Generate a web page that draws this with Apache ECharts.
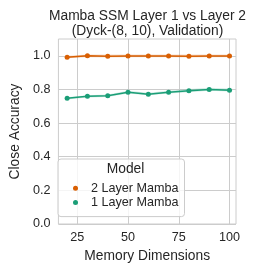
<!DOCTYPE html>
<html><head><meta charset="utf-8">
<script src="https://cdn.jsdelivr.net/npm/echarts@6/dist/echarts.min.js"></script>
<style>html,body{margin:0;padding:0;background:#fff}#c{width:254px;height:268px}</style>
</head><body><div id="c"></div>
<script>
const memoryDims = [20, 30, 40, 50, 60, 70, 80, 90, 100];
const twoLayer = [0.992, 1.0, 0.998, 0.999, 0.999, 0.999, 0.998, 0.999, 0.999];
const twoLayerLow = [0.985, 0.992, 0.99, 0.992, 0.992, 0.992, 0.99, 0.992, 0.992];
const twoLayerHigh = [1.0, 1.008, 1.008, 1.008, 1.008, 1.008, 1.008, 1.008, 1.008];
const oneLayer = [0.747, 0.759, 0.762, 0.784, 0.772, 0.784, 0.792, 0.800, 0.796];
const oneLayerLow = [0.740, 0.752, 0.755, 0.776, 0.765, 0.776, 0.784, 0.792, 0.788];
const oneLayerHigh = [0.754, 0.766, 0.770, 0.792, 0.780, 0.792, 0.802, 0.810, 0.806];
const xTicks = [25, 50, 75, 100];
const yTicks = [0.0, 0.2, 0.4, 0.6, 0.8, 1.0];
const seriesNames = ['2 Layer Mamba', '1 Layer Mamba'];
const colors = ['#d95f02', '#1b9e77'];
const bandColors = ['rgba(217,95,2,0.2)', 'rgba(27,158,119,0.2)'];

const FONT = 'Liberation Sans, Arial, sans-serif';
const BIG = 13.8, SMALL = 12.6;
const pairs = (ys) => memoryDims.map((x, i) => [x, ys[i]]);

function bandSeries(lo, hi, col) {
  return {
    type: 'custom', silent: true, z: 1,
    data: memoryDims.map((x, i) => [x, lo[i], hi[i]]),
    encode: {x: 0, y: [1, 2]},
    renderItem: function (params, api) {
      if (params.dataIndex !== 0) return;
      const top = memoryDims.map((x, i) => api.coord([x, hi[i]]));
      const bot = memoryDims.map((x, i) => api.coord([x, lo[i]])).reverse();
      return {type: 'polygon', shape: {points: top.concat(bot)}, style: {fill: col}};
    }
  };
}

const chart = echarts.init(document.getElementById('c'), null, {renderer: 'canvas'});
chart.setOption({
  animation: false,
  backgroundColor: '#fff',
  title: {
    text: 'Mamba SSM Layer 1 vs Layer 2\n(Dyck-(8, 10), Validation)',
    left: 142.5, top: 3, textAlign: 'center',
    textStyle: {fontFamily: FONT, fontSize: BIG, fontWeight: 'normal', color: '#262626', lineHeight: 15.5}
  },
  grid: {left: 51, right: 18, top: 39, bottom: 44, show: true, borderColor: '#cccccc', borderWidth: 1},
  xAxis: {
    type: 'value', min: 15.7, max: 103.2,
    name: 'Memory Dimensions', nameLocation: 'middle', nameGap: 25,
    nameTextStyle: {fontFamily: FONT, fontSize: BIG, color: '#262626'},
    axisLine: {show: false}, axisTick: {show: false, customValues: xTicks},
    axisLabel: {customValues: xTicks, fontFamily: FONT, fontSize: SMALL, color: '#262626', margin: 7},
    splitLine: {show: true, lineStyle: {color: '#cccccc', width: 1}}
  },
  yAxis: {
    type: 'value', min: 0, max: 1.1,
    name: 'Close Accuracy', nameLocation: 'middle', nameGap: 34,
    nameTextStyle: {fontFamily: FONT, fontSize: BIG, color: '#262626'},
    axisLine: {show: false}, axisTick: {show: false, customValues: yTicks},
    axisLabel: {customValues: yTicks, formatter: v => v.toFixed(1), fontFamily: FONT, fontSize: SMALL, color: '#262626', margin: 8},
    splitLine: {show: true, lineStyle: {color: '#cccccc', width: 1}}
  },
  legend: {
    orient: 'vertical', left: 58, top: 159,
    data: seriesNames.map(n => ({name: n, icon: 'circle'})),
    itemWidth: 5, itemHeight: 5, itemGap: 0,
    padding: [22, 6, 7, 15],
    borderColor: '#cccccc', borderWidth: 1, borderRadius: 3, backgroundColor: 'rgba(255,255,255,0.8)',
    textStyle: {fontFamily: FONT, fontSize: SMALL, color: '#262626', lineHeight: 14.3, padding: [0, 0, 0, 8]}
  },
  graphic: [{
    type: 'text', x: 125.5, y: 169.5, z: 100,
    style: {text: 'Model', font: BIG + 'px ' + FONT, fill: '#262626', textAlign: 'center', textVerticalAlign: 'middle'}
  }],
  series: [
    bandSeries(twoLayerLow, twoLayerHigh, bandColors[0]),
    bandSeries(oneLayerLow, oneLayerHigh, bandColors[1]),
    {name: seriesNames[0], type: 'line', data: pairs(twoLayer), color: colors[0], symbol: 'circle', symbolSize: 5, lineStyle: {width: 1.5}, z: 3},
    {name: seriesNames[1], type: 'line', data: pairs(oneLayer), color: colors[1], symbol: 'circle', symbolSize: 5, lineStyle: {width: 1.5}, z: 3}
  ]
});
</script></body></html>
